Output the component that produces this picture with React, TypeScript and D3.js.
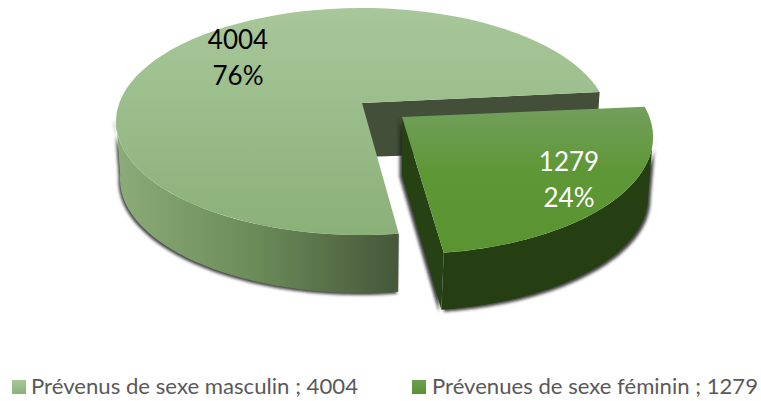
import React from "react";
import * as d3 from "d3";

const categories = ["Prévenus de sexe masculin", "Prévenues de sexe féminin"];
const values = [4004, 1279];
const percents = ["76%", "24%"];
const deg = Math.PI / 180;

type Ell = { cx: number; cy: number; rx: number; ry: number };
const largeTop: Ell = { cx: 362, cy: 121.5, rx: 246, ry: 113.5 };
const largeBottom: Ell = { cx: 362, cy: 179, rx: 242, ry: 114 };
const smallTop: Ell = { cx: 407, cy: 137, rx: 246, ry: 117 };
const smallBottom: Ell = { cx: 405, cy: 197, rx: 243, ry: 114 };

const start = 171.4 * deg;
const pie = d3.pie<number>().sort(null).startAngle(start).endAngle(start + 2 * Math.PI);
const arcs = pie(values);
// perspective foreshortening of the pie angles
const persp = d3
  .scaleLinear()
  .domain([start, arcs[0].endAngle, arcs[1].endAngle])
  .range([start, 435 * deg, start + 2 * Math.PI]);

const line = d3.line<[number, number]>();
const pt = (e: Ell, t: number): [number, number] => [e.cx + e.rx * Math.sin(t), e.cy - e.ry * Math.cos(t)];
const arcPts = (e: Ell, a: number, b: number): [number, number][] =>
  d3.range(0, 81).map((i) => pt(e, a + ((b - a) * i) / 80));

const L0 = persp(arcs[0].startAngle);
const L1 = persp(arcs[0].endAngle);
const S0 = persp(arcs[1].startAngle);
const S1 = persp(arcs[1].endAngle);
const rightT = 450 * deg;

const largeApex: [number, number] = [largeTop.cx, largeTop.cy - 18.5];
const largeApexLow: [number, number] = [largeBottom.cx, largeBottom.cy - 22];
const smallApex: [number, number] = [smallTop.cx - 5, smallTop.cy - 20];
const smallApexLow: [number, number] = [smallBottom.cx - 3, smallBottom.cy - 22];

const largeTopPath = line([largeApex, ...arcPts(largeTop, L0, L1)]) + "Z";
const largeSidePath =
  line([...arcPts(largeTop, L0, 272 * deg), ...arcPts(largeBottom, 272 * deg, L0)]) + "Z";
const largeWallPath = line([largeApex, pt(largeTop, L1), pt(largeBottom, L1), largeApexLow]) + "Z";

const smallTopPath = line([smallApex, ...arcPts(smallTop, S0, S1)]) + "Z";
const smallSidePath =
  line([...arcPts(smallTop, rightT, S1), ...arcPts(smallBottom, S1, rightT)]) + "Z";
const smallWallPath = line([smallApex, pt(smallTop, S1), pt(smallBottom, S1), smallApexLow]) + "Z";

const labelFont = "Lato, Carlito, sans-serif";

export default function App() {
  return (
    <svg
      width={761}
      height={401}
      style={{ position: "absolute", left: 0, top: 0, background: "#fff" }}
      fontFamily={labelFont}
    >
      <defs>
        <linearGradient id="lt" gradientUnits="userSpaceOnUse" x1="0" y1="8" x2="0" y2="235">
          <stop offset="0" stopColor="#a8c79a" />
          <stop offset="1" stopColor="#8bb078" />
        </linearGradient>
        <linearGradient id="ls" gradientUnits="userSpaceOnUse" x1="118" y1="0" x2="399" y2="0">
          <stop offset="0" stopColor="#8bab79" />
          <stop offset="0.5" stopColor="#6a8a58" />
          <stop offset="1" stopColor="#46573a" />
        </linearGradient>
        <linearGradient id="st" gradientUnits="userSpaceOnUse" x1="0" y1="105" x2="0" y2="253">
          <stop offset="0" stopColor="#739f5e" />
          <stop offset="0.45" stopColor="#5e9736" />
          <stop offset="1" stopColor="#5a9331" />
        </linearGradient>
        <linearGradient id="lg1" x1="0" y1="0" x2="0" y2="1">
          <stop offset="0" stopColor="#a8c79a" />
          <stop offset="1" stopColor="#8bb078" />
        </linearGradient>
        <linearGradient id="lg2" x1="0" y1="0" x2="0" y2="1">
          <stop offset="0" stopColor="#6d9d55" />
          <stop offset="1" stopColor="#5a9331" />
        </linearGradient>
        <filter id="blur" filterUnits="userSpaceOnUse" x="0" y="0" width="761" height="401">
          <feGaussianBlur stdDeviation="1.6" />
        </filter>
      </defs>

      <path d={largeSidePath} fill="#222" opacity={0.85} filter="url(#blur)" transform="translate(-1.5,2)" />
      <path d={largeSidePath} fill="url(#ls)" />
      <path d={largeWallPath} fill="#434f38" />
      <path d={largeTopPath} fill="url(#lt)" />

      <g filter="url(#blur)" opacity={0.85} fill="#222" transform="translate(0,2)">
        <path d={smallSidePath} transform="translate(2.5,0)" />
        <path d={smallWallPath} transform="translate(-2.5,0)" />
      </g>
      <path d={smallSidePath} fill="#253f12" />
      <path d={smallWallPath} fill="#264113" />
      <path d={smallTopPath} fill="url(#st)" />

      <g fontSize={26} textAnchor="middle">
        <text x={238} y={49} fill="#000">{values[0]}</text>
        <text x={238} y={85} fill="#000">{percents[0]}</text>
        <text x={569} y={171} fill="#fff">{values[1]}</text>
        <text x={569} y={207} fill="#fff">{percents[1]}</text>
      </g>

      <rect x={12} y={380} width={14} height={14} fill="url(#lg1)" />
      <text x={31} y={394} fontSize={22} fill="#595959" textLength={327} lengthAdjust="spacingAndGlyphs">
        {`${categories[0]} ; ${values[0]}`}
      </text>
      <rect x={412} y={380} width={14} height={14} fill="url(#lg2)" />
      <text x={432} y={394} fontSize={22} fill="#595959" textLength={326} lengthAdjust="spacingAndGlyphs">
        {`${categories[1]} ; ${values[1]}`}
      </text>
    </svg>
  );
}
